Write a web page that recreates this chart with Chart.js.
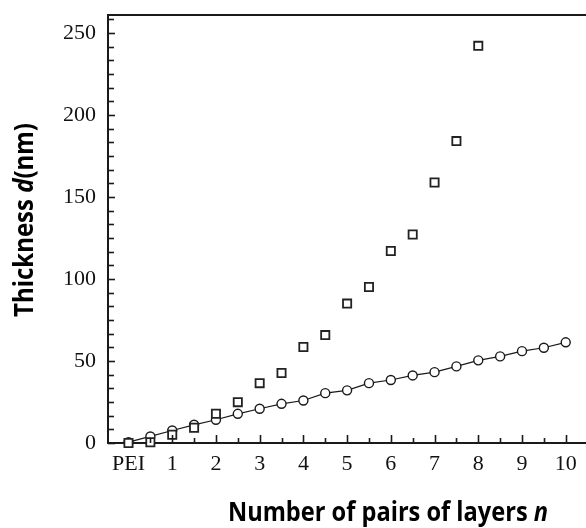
<!DOCTYPE html>
<html>
<head>
<meta charset="utf-8">
<script src="https://cdn.jsdelivr.net/npm/chart.js@4"></script>
<style>
  html, body { margin: 0; padding: 0; background: #fff; }
  #wrap { width: 586px; height: 528px; position: relative; }
</style>
</head>
<body>
<div id="wrap"><canvas id="thickness"></canvas></div>
<script>
// number of pairs of layers n (0 = PEI base layer)
const layerSteps = [0, 0.5, 1, 1.5, 2, 2.5, 3, 3.5, 4, 4.5, 5, 5.5, 6, 6.5, 7, 7.5, 8, 8.5, 9, 9.5, 10];

// circles: linear growth, joined by a line
const circleThickness = [0.5, 4.0, 7.6, 11.1, 14.2, 17.8, 20.9, 23.9, 25.9, 30.4, 32.1, 36.5, 38.4, 41.2, 43.2, 46.7, 50.4, 52.8, 56.0, 58.1, 61.4];

// squares: exponential growth, only measured up to n = 8
const squareThickness = [0, 0.5, 5.0, 9.3, 17.8, 24.9, 36.5, 42.7, 58.5, 65.8, 85.0, 95.1, 117.1, 127.1, 158.9, 184.1, 242.2];

const xTickValues = [0, 1, 2, 3, 4, 5, 6, 7, 8, 9, 10];
const xTickLabels = ['PEI', '1', '2', '3', '4', '5', '6', '7', '8', '9', '10'];
const yTickValues = [0, 50, 100, 150, 200, 250];

const ink = '#1a1a1a';

function toPoints(values) {
    return values.map((v, i) => ({ x: layerSteps[i], y: v }));
}

// inward tick marks, top border and the two axis titles
const framePlugin = {
    id: 'frame',
    afterDraw(chart) {
        const ctx = chart.ctx;
        const area = chart.chartArea;
        const x = chart.scales.x;
        const y = chart.scales.y;
        ctx.save();
        ctx.strokeStyle = ink;

        ctx.lineWidth = 2;
        ctx.beginPath();
        ctx.moveTo(area.left - 1, area.top);
        ctx.lineTo(area.right, area.top);
        ctx.stroke();

        ctx.lineWidth = 1.6;
        // y minor ticks: six per labelled step
        for (let k = 0; k <= 31; k++) {
            const v = k * 50 / 6;
            if (v > y.max) break;
            const py = Math.round(y.getPixelForValue(v)) + 0.5;
            const len = (k % 6 === 0) ? 7 : 6;
            ctx.beginPath();
            ctx.moveTo(area.left, py);
            ctx.lineTo(area.left + len, py);
            ctx.stroke();
        }
        // x ticks every half pair
        for (let k = 1; k <= 20; k++) {
            const v = k / 2;
            const px = Math.round(x.getPixelForValue(v)) + 0.5;
            const len = (k % 2 === 0) ? 8 : 5;
            ctx.beginPath();
            ctx.moveTo(px, area.bottom);
            ctx.lineTo(px, area.bottom - len);
            ctx.stroke();
        }

        drawTitle(ctx, [['Number of pairs of layers ', 'normal'], ['n', 'italic']], 388, 521, 0, 320);
        drawTitle(ctx, [['Thickness ', 'normal'], ['d', 'italic'], ['(nm)', 'normal']], 33, 220, -Math.PI / 2, 194);
        ctx.restore();
    }
};

function drawTitle(ctx, parts, cx, cy, angle, targetWidth) {
    const size = 26;
    let total = 0;
    parts.forEach(p => {
        ctx.font = p[1] + ' bold ' + size + 'px "Open Sans"';
        total += ctx.measureText(p[0]).width;
    });
    const sx = targetWidth / total;
    ctx.save();
    ctx.translate(cx, cy);
    ctx.rotate(angle);
    ctx.scale(sx, 1);
    ctx.fillStyle = '#000';
    ctx.textBaseline = 'alphabetic';
    ctx.textAlign = 'left';
    let pos = -total / 2;
    parts.forEach(p => {
        ctx.font = p[1] + ' bold ' + size + 'px "Open Sans"';
        ctx.fillText(p[0], pos, 0);
        pos += ctx.measureText(p[0]).width;
    });
    ctx.restore();
}

new Chart(document.getElementById('thickness'), {
    type: 'scatter',
    data: {
        datasets: [
            {
                label: 'squares',
                data: toPoints(squareThickness),
                showLine: false,
                pointStyle: 'rect',
                pointRadius: 5.8,
                pointBackgroundColor: '#fff',
                pointBorderColor: '#222',
                pointBorderWidth: 1.8,
                clip: false,
                order: 1
            },
            {
                label: 'circles',
                data: toPoints(circleThickness),
                showLine: true,
                borderColor: ink,
                borderWidth: 1.2,
                pointStyle: 'circle',
                pointRadius: 4.5,
                pointBackgroundColor: '#fff',
                pointBorderColor: ink,
                pointBorderWidth: 1.4,
                clip: false,
                order: 2
            }
        ]
    },
    options: {
        responsive: true,
        maintainAspectRatio: false,
        animation: false,
        layout: { autoPadding: false, padding: { top: 15, right: 0, left: 0, bottom: 0 } },
        plugins: {
            legend: { display: false },
            tooltip: { enabled: false }
        },
        scales: {
            x: {
                type: 'linear',
                min: -0.469,
                max: 10.464,
                afterBuildTicks: s => { s.ticks = xTickValues.map(v => ({ value: v })); },
                afterFit: s => { s.height = 85; s.paddingLeft = 0; s.paddingRight = 0; },
                grid: { drawOnChartArea: false, drawTicks: false },
                border: { display: true, color: ink, width: 2 },
                ticks: {
                    autoSkip: false,
                    maxRotation: 0,
                    padding: 8,
                    color: '#111',
                    font: { family: '"Liberation Serif"', size: 22 },
                    callback: v => xTickLabels[xTickValues.indexOf(v)]
                }
            },
            y: {
                type: 'linear',
                min: 0,
                max: 261,
                afterBuildTicks: s => { s.ticks = yTickValues.map(v => ({ value: v })); },
                afterFit: s => { s.width = 108; s.paddingTop = 0; s.paddingBottom = 0; },
                grid: { drawOnChartArea: false, drawTicks: false },
                border: { display: true, color: ink, width: 2 },
                ticks: {
                    padding: 12,
                    color: '#111',
                    font: { family: '"Liberation Serif"', size: 22 },
                    callback: v => String(v)
                }
            }
        }
    },
    plugins: [framePlugin]
});
</script>
</body>
</html>
